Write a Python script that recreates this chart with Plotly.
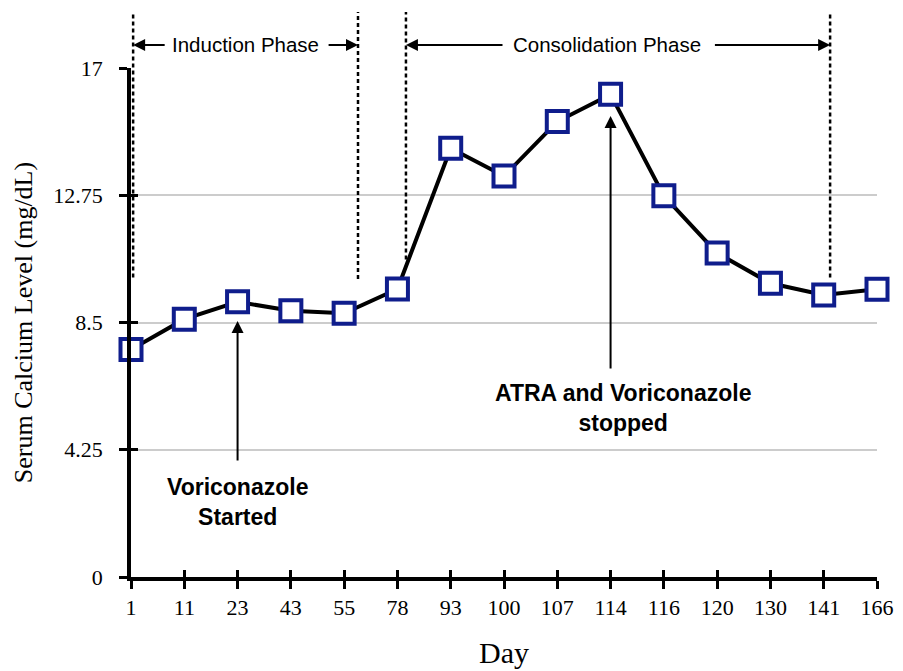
import plotly.graph_objects as go

# ---- data ----
days = ["1", "11", "23", "43", "55", "78", "93", "100", "107", "114", "116", "120", "130", "141", "166"]
calcium = [7.60, 8.61, 9.19, 8.89, 8.81, 9.62, 14.32, 13.39, 15.21, 16.12, 12.73, 10.82, 9.81, 9.42, 9.61]
y_ticks = [0, 4.25, 8.5, 12.75, 17]
y_ticktext = ["0", "4.25", "8.5", "12.75", "17"]

# phase boundaries (category index units) and dashed-line extents (data units)
boundary_x = [0.04, 4.26, 5.16, 13.12]
boundary_bottom = [10.0, 9.95, 10.6, 10.0]
boundary_top = 18.87

phase_names = ["Induction Phase", "Consolidation Phase"]
phase_center = [2.15, 8.94]
phase_start = [0.04, 5.16]
phase_end = [4.26, 13.12]
phase_tail_left = [0.66, 7.0]
phase_tail_right = [3.68, 10.93]
phase_y = 17.77

event_text = ["Voriconazole<br>Started", "ATRA and Voriconazole<br>stopped"]
event_x = [2, 9]
event_text_x = [2, 9.23]
event_head_y = [8.55, 15.4]
event_tail_y = [3.84, 6.91]
event_text_y = [2.5, 5.64]

YMAX = 17
xi = list(range(len(days)))

SERIF = "Liberation Serif, Times New Roman, serif"
SANS = "Liberation Sans, Arial, Helvetica, sans-serif"

fig = go.Figure()
fig.add_trace(go.Scatter(
    x=xi, y=calcium, mode="lines+markers",
    line=dict(color="black", width=4),
    marker=dict(symbol="square", size=21, color="white",
                line=dict(color="#0f1d8c", width=4)),
    cliponaxis=False, showlegend=False, hoverinfo="skip"))
# invisible trace for overlay axes (inner tick halves)
fig.add_trace(go.Scatter(x=[0], y=[0], xaxis="x2", yaxis="y2", mode="markers",
                         marker=dict(opacity=0), showlegend=False, hoverinfo="skip"))

# dashed boundary lines
for bx, bb in zip(boundary_x, boundary_bottom):
    fig.add_shape(type="line", xref="x", yref="paper", x0=bx, x1=bx,
                  y0=bb / YMAX, y1=boundary_top / YMAX,
                  line=dict(color="black", width=2.5, dash="4px,3px"))

ann = []
for name, c, s, e, tl, tr in zip(phase_names, phase_center, phase_start, phase_end,
                                   phase_tail_left, phase_tail_right):
    ann.append(dict(x=c, y=phase_y / YMAX, xref="x", yref="paper", text=name,
                    xanchor="center", yanchor="middle",
                    showarrow=False, font=dict(family=SANS, size=20.5, color="black")))
    for head, tail in ((s, tl), (e, tr)):
        ann.append(dict(x=head, y=phase_y / YMAX, ax=tail, ay=0, xref="x", yref="paper",
                        axref="x", ayref="pixel", text="", showarrow=True,
                        arrowhead=2, arrowsize=1.2, arrowwidth=2, arrowcolor="black",
                        standoff=0, startstandoff=0))
for t, x, tx, hy, ty, tyy in zip(event_text, event_x, event_text_x, event_head_y,
                                 event_tail_y, event_text_y):
    ann.append(dict(x=x, y=hy, ax=x, ay=ty, xref="x", yref="y", axref="x", ayref="y",
                    text="", showarrow=True, arrowhead=2, arrowsize=1.2, arrowwidth=2,
                    arrowcolor="black", standoff=0, startstandoff=0))
    ann.append(dict(x=tx, y=tyy, xref="x", yref="y", text="<b>" + t + "</b>",
                    showarrow=False, align="center",
                    font=dict(family=SANS, size=23, color="black")))

fig.update_layout(
    width=903, height=671,
    margin=dict(l=123, r=34, t=60, b=102),
    paper_bgcolor="white", plot_bgcolor="white",
    annotations=ann,
    xaxis=dict(range=[0, len(days) - 1], tickmode="array", tickvals=xi, ticktext=days,
               showline=True, linecolor="black", linewidth=3.5,
               ticks="outside", ticklen=8, tickwidth=3, tickcolor="black",
               showgrid=False, zeroline=False,
               tickfont=dict(family=SERIF, size=22, color="black"),
               title=dict(text="Day", font=dict(family=SERIF, size=30, color="black"),
                          standoff=24)),
    yaxis=dict(range=[0, YMAX], tickmode="array", tickvals=y_ticks, ticktext=y_ticktext,
               showline=True, linecolor="black", linewidth=3.5,
               ticks="outside", ticklen=8, tickwidth=3, tickcolor="black",
               ticklabelstandoff=12,
               showgrid=True, gridcolor="#cccccc", gridwidth=1.5, zeroline=False,
               tickfont=dict(family=SERIF, size=22, color="black"),
               title=dict(text="Serum Calcium Level (mg/dL)",
                          font=dict(family=SERIF, size=26, color="black"),
                          standoff=14)),
    xaxis2=dict(overlaying="x", anchor="y", side="bottom", range=[0, len(days) - 1],
                tickmode="array", tickvals=xi, ticks="inside", ticklen=7, tickwidth=3,
                tickcolor="black", showticklabels=False, showgrid=False,
                zeroline=False, showline=False),
    yaxis2=dict(overlaying="y", anchor="x", side="left", range=[0, YMAX],
                tickmode="array", tickvals=y_ticks, ticks="inside", ticklen=7,
                tickwidth=3, tickcolor="black", showticklabels=False,
                showgrid=False, zeroline=False, showline=False),
)

fig.write_html("out.html")
